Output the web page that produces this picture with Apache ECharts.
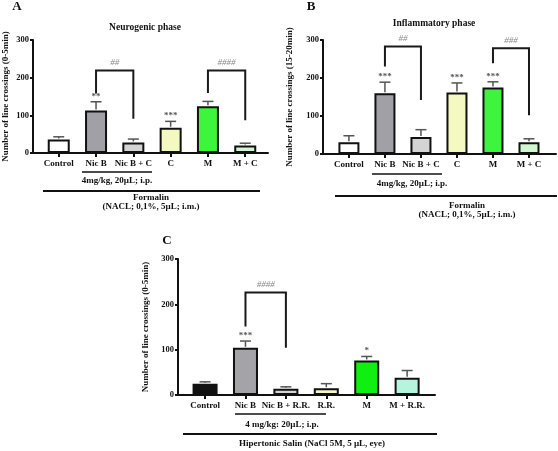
<!DOCTYPE html>
<html><head><meta charset="utf-8">
<script src="https://cdn.jsdelivr.net/npm/echarts@6/dist/echarts.min.js"></script>
<style>html,body{margin:0;padding:0;background:#fff}#c{width:558px;height:451px}</style>
</head><body><div id="c"></div>
<script>
const catsAB = ['Control','Nic B','Nic B + C','C','M','M + C'];
const catsC = ['Control','Nic B','Nic B + R.R.','R.R.','M','M + R.R.'];
const meanA = [36,113,28,67,124,20];
const errA = [7,23,9,17,13,6];
const starsA = ['','**','','***','',''];
const meanB = [31,160,45,162,175,31];
const errB = [17,29,19,25,15,9];
const starsB = ['','***','','***','***',''];
const meanC = [25,104,14,15,76,38];
const errC = [4,15,4,10,9,16];
const starsC = ['','***','','','*',''];
const colorsAB = ['#ffffff','#a0a0a6','#d4d4d4','#f4f9c1','#3df53d','#d0f7d0'];
const colorsC = ['#111111','#a3a3a8','#d4d4d4','#f5f8c3','#11ee11','#b5f5dd'];
// brackets: [leftIdx, rightIdx, leftBottom, top, rightBottom]
const bracketsA = [[1,2,158,219,91],[4,5,159,219,87]];
const bracketLabelsA = ['##','####'];
const bracketsB = [[1,2,230,283,142],[4,5,239,278,102]];
const bracketLabelsB = ['##','###'];
const bracketsC = [[1,2,151,226,104]];
const bracketLabelsC = ['####'];

const FF = '"Liberation Serif", "DejaVu Serif", serif';
const chart = echarts.init(document.getElementById('c'), null, {renderer:'canvas'});

const panels = [
  {grid:{left:31,top:40,width:237,height:113}, xmin:-0.69, xmax:5.61, cats:catsAB, mean:meanA, err:errA, stars:starsA, colors:colorsAB, br:bracketsA, brl:bracketLabelsA, bw:22, name:'Number of line crossings (0-5min)', gap:23},
  {grid:{left:323,top:40,width:233,height:114}, xmin:-0.72, xmax:5.75, cats:catsAB, mean:meanB, err:errB, stars:starsB, colors:colorsAB, br:bracketsB, brl:bracketLabelsB, bw:21, name:'Number of line crossings (15-20min)', gap:29},
  {grid:{left:178,top:259,width:257,height:136}, xmin:-0.67, xmax:5.69, cats:catsC, mean:meanC, err:errC, stars:starsC, colors:colorsC, br:bracketsC, brl:bracketLabelsC, bw:25, name:'Number of line crossings (0-5min)', gap:28}
];

const grids=[], xAxes=[], yAxes=[], series=[];
panels.forEach((p,k)=>{
  grids.push(Object.assign({containLabel:false}, p.grid));
  const idx = p.cats.map((c,i)=>i);
  xAxes.push({gridIndex:k, type:'value', min:p.xmin, max:p.xmax,
    axisLine:{show:true,onZero:false,lineStyle:{color:'#111',width:2}},
    axisTick:{show:true,customValues:idx,length:4,lineStyle:{color:'#111',width:2}},
    axisLabel:{show:true,customValues:idx,margin:6,formatter:v=>p.cats[Math.round(v)],color:'#111',fontFamily:FF,fontWeight:'bold',fontSize:9},
    splitLine:{show:false}});
  yAxes.push({gridIndex:k, type:'value', min:0, max:300, interval:100,
    name:p.name, nameLocation:'middle', nameGap:p.gap,
    nameTextStyle:{color:'#111',fontFamily:FF,fontWeight:'bold',fontSize:9},
    axisLine:{show:true,onZero:false,lineStyle:{color:'#111',width:2}},
    axisTick:{show:true,length:3,lineStyle:{color:'#111',width:2}},
    axisLabel:{color:'#111',fontFamily:FF,fontWeight:'bold',fontSize:8.5,margin:4},
    splitLine:{show:false}});
  series.push({type:'bar', xAxisIndex:k, yAxisIndex:k, barWidth:p.bw,
    data:p.mean.map((v,i)=>({value:[i,v], itemStyle:{color:p.colors[i]}})),
    itemStyle:{borderColor:'#111',borderWidth:2}, animation:false});
  series.push({type:'custom', xAxisIndex:k, yAxisIndex:k, clip:false, z:5, animation:false,
    data:p.mean.map((v,i)=>[i,v,p.err[i]]),
    renderItem:(params,api)=>{
      const x=api.value(0), m=api.value(1), e=api.value(2);
      const a=api.coord([x,m]), b=api.coord([x,m+e]);
      const hw=5.5;
      const ch=[
        {type:'line',shape:{x1:a[0],y1:a[1]-1,x2:b[0],y2:b[1]},style:{stroke:'#555',lineWidth:1.5}},
        {type:'line',shape:{x1:b[0]-hw,y1:b[1],x2:b[0]+hw,y2:b[1]},style:{stroke:'#555',lineWidth:1.5}}
      ];
      const s=p.stars[params.dataIndex];
      if(s) ch.push({type:'text',x:b[0],y:b[1]-1,style:{text:s,align:'center',verticalAlign:'bottom',fill:'#555',font:'bold 9px '+FF}});
      return {type:'group',children:ch};
    }});
  series.push({type:'custom', xAxisIndex:k, yAxisIndex:k, clip:false, z:6, animation:false,
    data:p.br,
    renderItem:(params,api)=>{
      const l=api.value(0), r=api.value(1), lb=api.value(2), t=api.value(3), rb=api.value(4);
      const p1=api.coord([l,lb]), p2=api.coord([l,t]), p3=api.coord([r,t]), p4=api.coord([r,rb]);
      return {type:'group',children:[
        {type:'polyline',shape:{points:[p1,p2,p3,p4]},style:{stroke:'#1a1a1a',lineWidth:2,fill:null}},
        {type:'text',x:(p2[0]+p3[0])/2,y:p2[1]-8,style:{text:p.brl[params.dataIndex],align:'center',verticalAlign:'middle',fill:'#888',font:'italic 9px '+FF}}
      ]};
    }});
});

function T(text,x,y,size,bold){return {type:'text',x:x,y:y,silent:true,style:{text:text,align:'center',verticalAlign:'middle',fill:'#111',font:(bold?'bold ':'')+size+'px '+FF}};}
function L(x1,y1,x2,y2,w){return {type:'line',silent:true,shape:{x1:x1,y1:y1,x2:x2,y2:y2},style:{stroke:'#111',lineWidth:w}};}

const graphic=[
  T('A',17,7,13,true), T('B',311,7,13,true), T('C',167,241,13,true),
  T('Neurogenic phase',145,28,9.5,true), T('Inflammatory phase',434,24,9.5,true),
  L(82,172,152,172,1.5), T('4mg/kg, 20µL; i.p.',117,181,9,true),
  L(43,191,260,191,2), T('Formalin',151,198,9,true), T('(NACL; 0,1%, 5µL; i.m.)',151,207,9,true),
  L(372,174,442,174,1.5), T('4mg/kg, 20µL; i.p.',412,184,9,true),
  L(335,196,557,196,2), T('Formalin',467,206,9,true), T('(NACL; 0,1%, 5µL; i.m.)',467,215,9,true),
  L(235,414,326,414,1.5), T('4 mg/kg: 20µL; i.p.',282,425,9,true),
  L(183,434,437,434,2), T('Hipertonic Salin (NaCl 5M, 5 µL, eye)',312,444,9,true)
];

chart.setOption({animation:false, backgroundColor:'#fff', grid:grids, xAxis:xAxes, yAxis:yAxes, series:series, graphic:graphic});
</script></body></html>
